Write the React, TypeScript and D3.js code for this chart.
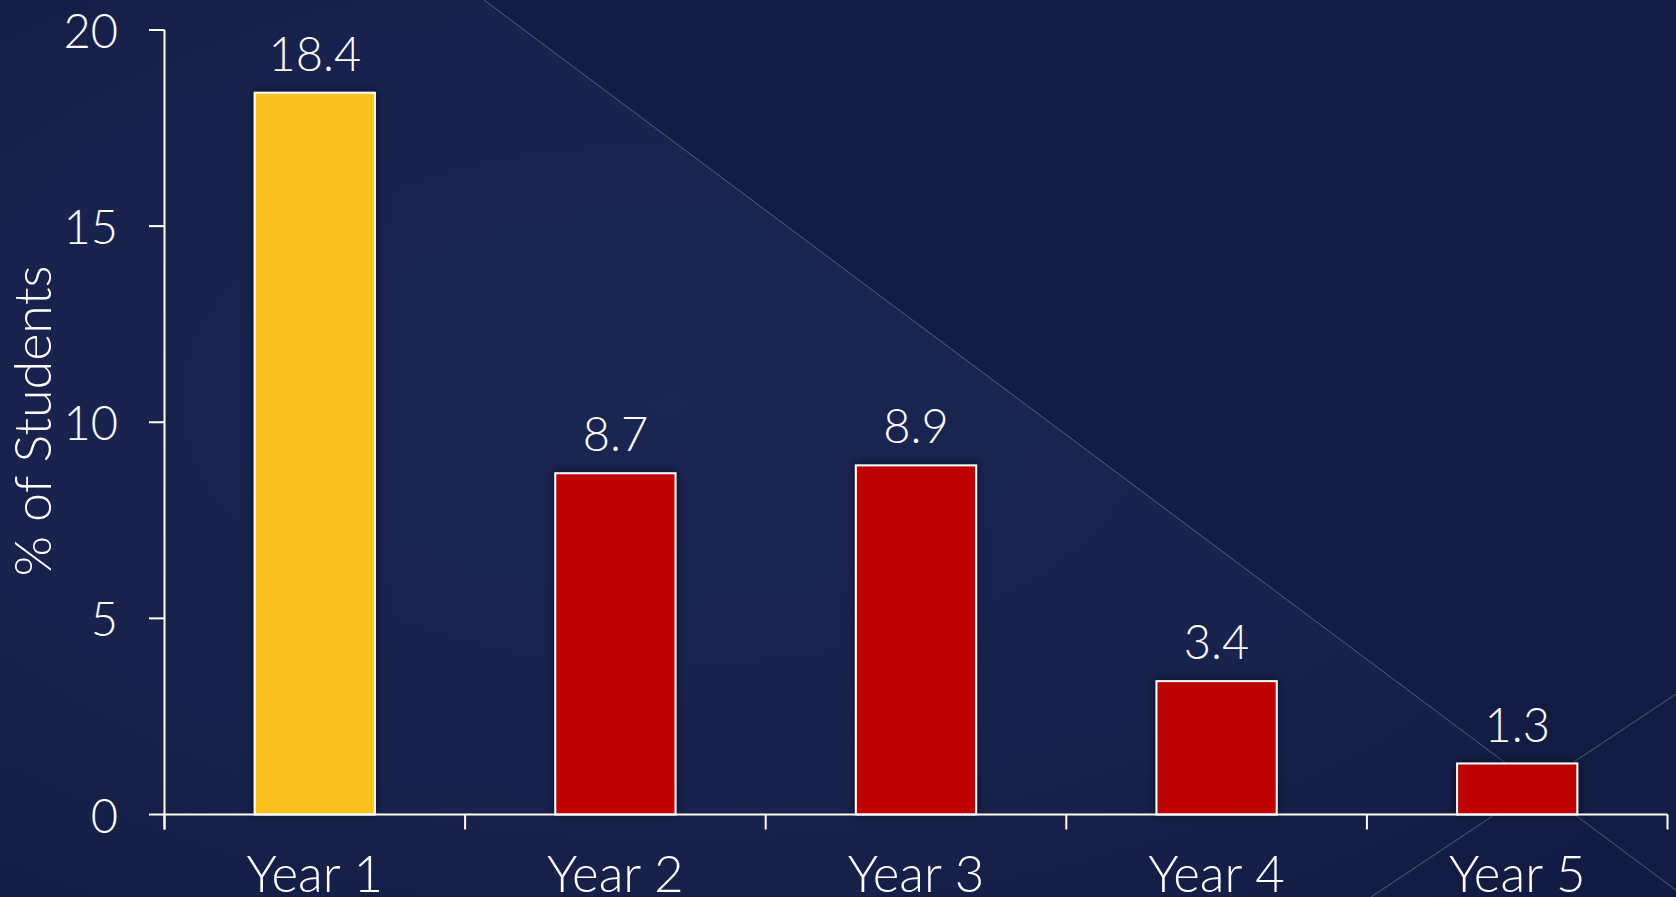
import React from "react";
import * as d3 from "d3";

const categories = ["Year 1", "Year 2", "Year 3", "Year 4", "Year 5"];
const values = [18.4, 8.7, 8.9, 3.4, 1.3];
const barColors = ["#FBC120", "#BD0000", "#BD0000", "#BD0000", "#BD0000"];
const yTicks = [0, 5, 10, 15, 20];
const yLabel = "% of Students";

const W = 1676;
const H = 897;
const FONT = "Lato, 'Open Sans', sans-serif";

export default function App() {
  const x = d3
    .scaleBand<string>()
    .domain(categories)
    .range([164.5, 1667.5])
    .paddingInner(0.6)
    .paddingOuter(0.3);
  const y = d3.scaleLinear().domain([0, 20]).range([814.5, 30]);
  const step = x.step();
  const x0 = 164.5;
  const boundaries = d3.range(categories.length + 1).map((i) => x0 + i * step);

  return (
    <svg
      width={W}
      height={H}
      style={{ position: "absolute", left: 0, top: 0, display: "block" }}
      fontFamily={FONT}
    >
      <defs>
        <radialGradient id="bgL" cx="0.4" cy="0.45" r="0.75">
          <stop offset="0" stopColor="#1a2552" />
          <stop offset="0.6" stopColor="#18224c" />
          <stop offset="1" stopColor="#131b42" />
        </radialGradient>
        <filter id="shadow" x="-30%" y="-30%" width="160%" height="160%">
          <feDropShadow dx="0" dy="-1" stdDeviation="5" floodColor="#000" floodOpacity="0.55" />
        </filter>
      </defs>
      <rect x={0} y={0} width={W} height={H} fill="url(#bgL)" />
      <path d={`M484,0 L${W},0 L${W},890 Z`} fill="#131c43" />
      <line x1={484} y1={0} x2={1685} y2={897} stroke="rgba(200,210,235,0.35)" strokeWidth={1} />
      <line x1={1371} y1={897} x2={1676} y2={694} stroke="rgba(200,210,235,0.35)" strokeWidth={1} />

      {categories.map((c, i) => (
        <rect
          key={c}
          x={x(c)}
          y={y(values[i])}
          width={x.bandwidth()}
          height={y(0) - y(values[i])}
          fill={barColors[i]}
          stroke="#ffffff"
          strokeWidth={2}
          filter="url(#shadow)"
        />
      ))}

      {categories.map((c, i) => (
        <text
          key={"v" + c}
          x={(x(c) as number) + x.bandwidth() / 2}
          y={y(values[i]) - 22}
          textAnchor="middle"
          fill="#ffffff"
          fontSize={47}
          fontWeight={300}
        >
          {values[i].toFixed(1)}
        </text>
      ))}

      <line x1={164.5} y1={y(20)} x2={164.5} y2={y(0) + 15} stroke="#fff" strokeWidth={2} />
      {yTicks.map((t) => (
        <g key={"yt" + t}>
          <line x1={149} y1={y(t)} x2={164.5} y2={y(t)} stroke="#fff" strokeWidth={2} />
          <text
            x={118}
            y={y(t)}
            textAnchor="end"
            dominantBaseline="central"
            fill="#fff"
            fontSize={47}
            fontWeight={300}
          >
            {t}
          </text>
        </g>
      ))}

      <line x1={164.5} y1={y(0)} x2={1667.5} y2={y(0)} stroke="#fff" strokeWidth={2} />
      {boundaries.map((b, i) => (
        <line key={"xb" + i} x1={b} y1={y(0)} x2={b} y2={y(0) + 15} stroke="#fff" strokeWidth={2} />
      ))}
      {categories.map((c) => (
        <text
          key={"xl" + c}
          x={(x(c) as number) + x.bandwidth() / 2}
          y={892}
          textAnchor="middle"
          fill="#fff"
          fontSize={51}
          fontWeight={300}
        >
          {c}
        </text>
      ))}

      <text
        transform={`translate(51, 421) rotate(-90)`}
        textAnchor="middle"
        fill="#fff"
        fontSize={52}
        fontWeight={300}
      >
        {yLabel}
      </text>
    </svg>
  );
}
